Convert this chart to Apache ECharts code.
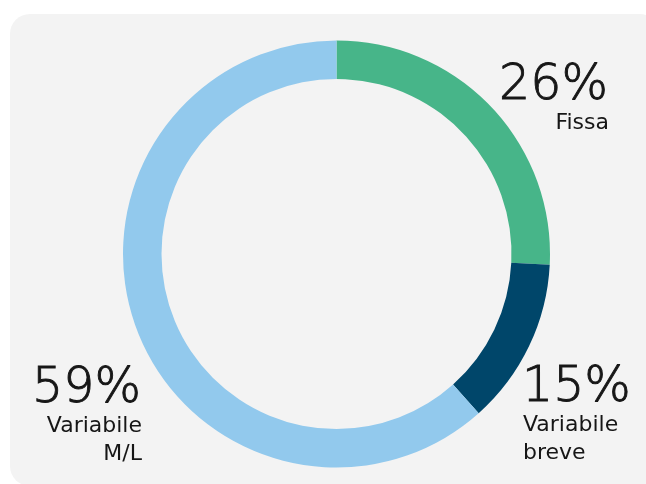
<!DOCTYPE html>
<html>
<head>
<meta charset="utf-8">
<script src="https://cdn.jsdelivr.net/npm/echarts@6/dist/echarts.min.js"></script>
<style>
html,body{margin:0;padding:0;background:#ffffff;}
#chart{width:646px;height:484px;}
</style>
</head>
<body>
<div id="chart"></div>
<script>
// Data
var categories = ['Fissa', 'Variabile breve', 'Variabile M/L'];
var labelLines = [['Fissa'], ['Variabile', 'breve'], ['Variabile', 'M/L']];
var percentLabels = ['26%', '15%', '59%'];
// slice sizes as drawn in the picture
var values = [25.8, 12.6, 61.6];
var colors = ['#47b589', '#00466a', '#92c9ed'];

// Layout (label anchors: baseline of the big number)
var labelPos = [
  {x: 608, y: 100, align: 'right'},
  {x: 522, y: 402, align: 'left'},
  {x: 141, y: 403, align: 'right'}
];
var nameFirstOffset = 29;
var nameLineGap = 28;

var chart = echarts.init(document.getElementById('chart'), null, {renderer: 'canvas'});

var graphics = [{
  type: 'rect',
  z: -10,
  shape: {x: 10, y: 14, width: 650, height: 472, r: 20},
  style: {fill: '#f3f3f3'}
}];
percentLabels.forEach(function (t, i) {
  var p = labelPos[i];
  graphics.push({
    type: 'text',
    x: p.x, y: p.y + 11,
    style: {
      text: t,
      font: '300 49px "DejaVu Sans"',
      fill: '#161616',
      stroke: '#161616',
      lineWidth: 0.9,
      textAlign: p.align,
      textVerticalAlign: 'bottom'
    }
  });
  labelLines[i].forEach(function (line, j) {
    graphics.push({
      type: 'text',
      x: p.x + 1,
      y: p.y + nameFirstOffset + j * nameLineGap + 5,
      style: {
        text: line,
        font: '400 22px "DejaVu Sans"',
        fill: '#161616',
        textAlign: p.align,
        textVerticalAlign: 'bottom'
      }
    });
  });
});

chart.setOption({
  animation: false,
  backgroundColor: '#ffffff',
  graphic: graphics,
  series: [{
    type: 'pie',
    center: [336.5, 254],
    radius: [175, 213.5],
    startAngle: 90,
    clockwise: true,
    avoidLabelOverlap: false,
    label: {show: false},
    labelLine: {show: false},
    emphasis: {disabled: true},
    itemStyle: {borderWidth: 0},
    data: categories.map(function (c, i) {
      return {name: c, value: values[i], itemStyle: {color: colors[i]}};
    })
  }]
});
</script>
</body>
</html>
